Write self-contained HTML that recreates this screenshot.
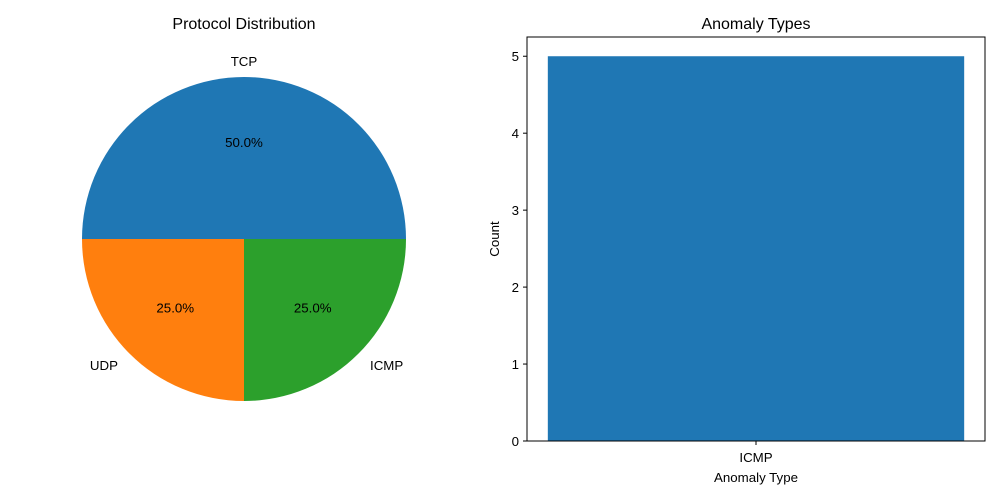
<!DOCTYPE html>
<html><head><meta charset="utf-8"><style>
body{margin:0;background:#fff;}
svg{display:block;font-family:"Liberation Sans","DejaVu Sans",sans-serif;}
</style></head><body>
<svg id="chart" width="1000" height="500" viewBox="0 0 1000 500">
<rect width="1000" height="500" fill="#fff"/>
<g id="pie"></g>
<g id="bar"></g>
</svg>
<script>
const protoLabels = ["TCP","UDP","ICMP"];
const protoValues = [2,1,1];
const protoColors = ["#1f77b4","#ff7f0e","#2ca02c"];
const anomalyCats = ["ICMP"];
const anomalyCounts = [5];
const yTicks = [0,1,2,3,4,5];

const NS="http://www.w3.org/2000/svg";
function mk(tag,attrs,parent,text){const e=document.createElementNS(NS,tag);for(const k in attrs)e.setAttribute(k,attrs[k]);if(text!==undefined)e.textContent=text;parent.appendChild(e);return e;}

// Pie
const pie=document.getElementById('pie');
const cx=244,cy=239,r=162;
mk('text',{x:cx,y:29,'text-anchor':'middle','font-size':16,fill:'#000',},pie,'Protocol Distribution');
const total=protoValues.reduce((a,b)=>a+b,0);
let ang=0;
protoValues.forEach((v,i)=>{
  const a0=ang, a1=ang+v/total*2*Math.PI; ang=a1;
  const x0=cx+r*Math.cos(a0), y0=cy-r*Math.sin(a0), x1=cx+r*Math.cos(a1), y1=cy-r*Math.sin(a1);
  const large=(a1-a0)>Math.PI?1:0;
  const p=mk('path',{d:`M${cx},${cy} L${x0},${y0} A${r},${r} 0 ${large} 0 ${x1},${y1} Z`,fill:protoColors[i]},pie);
  
  
  const m=(a0+a1)/2;
  const lt=mk('text',{x:cx+1.1*r*Math.cos(m),y:cy-1.1*r*Math.sin(m)+5,'text-anchor':Math.abs(Math.cos(m))<0.01?'middle':(Math.cos(m)>0?'start':'end'),'font-size':13.3,fill:'#000'},pie,protoLabels[i]);
  
  
  const pt=mk('text',{x:cx+0.6*r*Math.cos(m),y:cy-0.6*r*Math.sin(m)+5,'text-anchor':'middle','font-size':13.3,fill:'#000'},pie,(v/total*100).toFixed(1)+'%');
  
  
});

// Bar
const bar=document.getElementById('bar');
const L=527,R=985,T=37,B=441;
const yMax=5.25;
const ys=v=>B-(v/yMax)*(B-T);
mk('text',{x:(L+R)/2,y:29,'text-anchor':'middle','font-size':16,fill:'#000',},bar,'Anomaly Types');
const n=anomalyCats.length;
const span=(n-1)+0.8;
const xMin=-0.4-0.05*span, xMax=n-1+0.4+0.05*span;
const xs=v=>L+(v-xMin)/(xMax-xMin)*(R-L);
anomalyCats.forEach((c,i)=>{
  const rc=mk('rect',{x:xs(i-0.4),y:ys(anomalyCounts[i]),width:xs(i+0.4)-xs(i-0.4),height:B-ys(anomalyCounts[i]),fill:'#1f77b4'},bar);
  
  
  mk('line',{x1:xs(i),x2:xs(i),y1:B,y2:B+4,stroke:'#000','stroke-width':1},bar);
  const t=mk('text',{x:xs(i),y:B+21,'text-anchor':'middle','font-size':13.3,fill:'#000'},bar,c);
  
  
});
yTicks.forEach(v=>{
  mk('line',{x1:L-4,x2:L,y1:ys(v),y2:ys(v),stroke:'#000','stroke-width':1},bar);
  const t=mk('text',{x:L-8,y:ys(v)+5,'text-anchor':'end','font-size':13.3,fill:'#000'},bar,String(v));
  
  
});
mk('rect',{x:L,y:T,width:R-L,height:B-T,fill:'none',stroke:'#000','stroke-width':1,},bar);
mk('text',{x:(L+R)/2,y:482,'text-anchor':'middle','font-size':13.3,fill:'#000',},bar,'Anomaly Type');
mk('text',{x:499,y:(T+B)/2,'text-anchor':'middle','font-size':13.3,fill:'#000',transform:`rotate(-90 499 ${(T+B)/2})`,},bar,'Count');
</script>
</body></html>
